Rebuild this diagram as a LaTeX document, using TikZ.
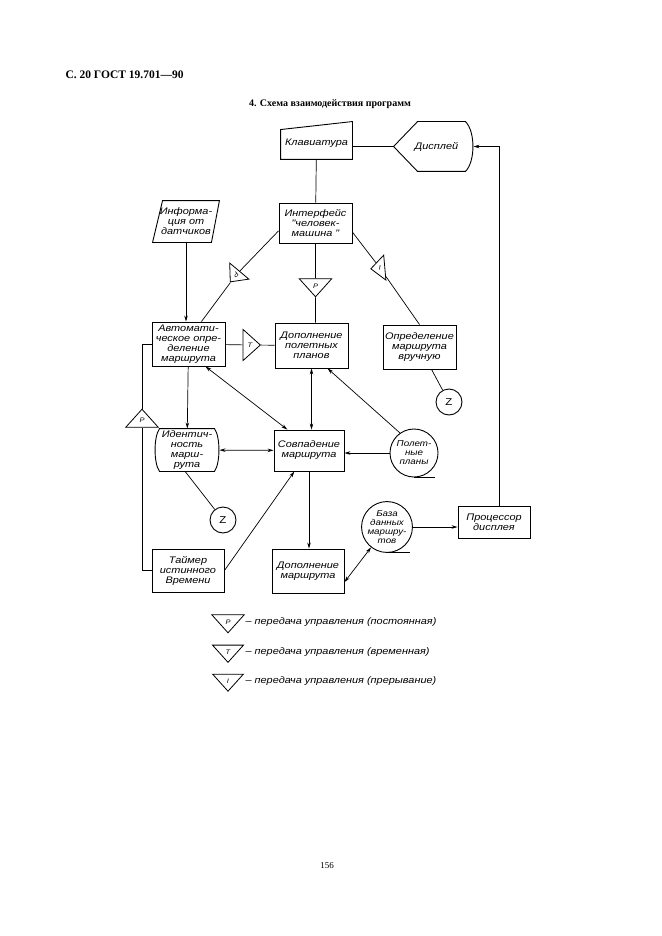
\documentclass[tikz,border=0pt]{standalone}
\usepackage{fontspec}
\setmainfont{Liberation Serif}
\newfontfamily\gost{Liberation Sans}[FakeStretch = 1.15]
\usetikzlibrary{arrows.meta}
\usetikzlibrary{calc}
\usetikzlibrary{shapes.geometric}
\tikzset{blk/.style = {draw, line width = 0.9, inner sep = 0, align = center, font = \gost\itshape\fontsize{9.5}{10}\selectfont}}
\tikzset{sh/.style = {blk, draw = none}}
\tikzset{rnd/.style = {blk, circle, minimum size = 48, font = \gost\itshape\fontsize{8.5}{9}\selectfont}}
\tikzset{zc/.style = {blk, circle, minimum size = 26, font = \gost\fontsize{10}{10}\selectfont}}
\tikzset{tri/.style = {draw, line width = 0.8, isosceles triangle, isosceles triangle apex angle = 84, shape border uses incircle, inner sep = 2.6, fill = white, font = \gost\itshape\fontsize{6.5}{6.5}\selectfont}}
\tikzset{trd/.style = {draw, line width = 0.8, isosceles triangle, isosceles triangle stretches, minimum width = 25, minimum height = 14, inner sep = 0, fill = white, font = \gost\itshape\fontsize{6.5}{6.5}\selectfont}}
\tikzset{con/.style = {line width = 0.7, >={Stealth[length = 6, width = 3.5]}}}

\begin{document}
\begin{tikzpicture}[x = 1pt, y = -1pt]
  \useasboundingbox (0, 0) rectangle (661, 936);
  \node [anchor = west, font = \bfseries\fontsize{11.5}{12}\selectfont] (hdr) at (62, 75) {С. 20 ГОСТ 19.701—90};
  \node [font = \bfseries\fontsize{10}{12}\selectfont] (ttl) at (330, 104) {4. Схема взаимодействия программ};
  % blocks
  \node [sh, minimum width = 71, minimum height = 32] (klav) at (316.5, 143) {Клавиатура};
  \draw [line width = 0.9] (klav.south west) -- (klav.south east) -- ($(klav.north east) + (0, -5)$) -- ($(klav.north west) + (0, 3)$) -- cycle;
  \node [sh, minimum width = 79, minimum height = 49] (disp) at (433.5, 146.5) {\hspace{6pt}Дисплей};
  \draw [line width = 0.9] (disp.west) -- ($(disp.north west) + (24, 0)$) -- ($(disp.north east) + (-8, 0)$)
    .. controls +(10, 10) and +(10, -10) .. ($(disp.south east) + (-8, 0)$) -- ($(disp.south west) + (24, 0)$) -- cycle;
  \node [blk, minimum width = 73, minimum height = 40] (iface) at (315.5, 223) {Интерфейс\\"человек-\\машина "};
  \node [sh, minimum width = 66, minimum height = 41] (info) at (186, 221.5) {Информа-\\ция от\\датчиков};
  \draw [line width = 0.9] (info.south west) -- ($(info.north west) + (10, 0)$) -- (info.north east) -- ($(info.south east) + (-8, 0)$) -- cycle;
  \node [blk, minimum width = 73, minimum height = 44] (auto) at (188.5, 344) {Автомати-\\ческое опре-\\деление\\маршрута};
  \node [blk, minimum width = 73, minimum height = 45] (dopp) at (311.5, 345.5) {Дополнение\\полетных\\планов};
  \node [blk, minimum width = 73, minimum height = 44] (manual) at (419.5, 347) {Определение\\маршрута\\вручную};
  \node [zc] (z1) at (449, 402) {Z};
  \node [sh, minimum width = 64, minimum height = 42] (ident) at (187, 450) {Идентич-\\ность\\марш-\\рута};
  \draw [line width = 0.9] ($(ident.north west) + (5, 0)$) -- ($(ident.north east) + (-5, 0)$)
    .. controls +(6, 8) and +(6, -8) .. ($(ident.south east) + (-5, 0)$) -- ($(ident.south west) + (5, 0)$)
    .. controls +(-6, -8) and +(-6, 8) .. ($(ident.north west) + (5, 0)$) -- cycle;
  \node [blk, minimum width = 70, minimum height = 41] (match) at (309, 450.5) {Совпадение\\маршрута};
  \node [rnd] (plans) at (414, 453) {Полет-\\ные\\планы};
  \draw [line width = 0.9] (plans.south) -- ++(21, 0);
  \node [zc] (z2) at (223, 520) {Z};
  \node [blk, minimum width = 72, minimum height = 43] (timer) at (188, 570.5) {Таймер\\истинного\\Времени};
  \node [blk, minimum width = 72, minimum height = 44] (dopm) at (308, 571) {Дополнение\\маршрута};
  \node [rnd] (base) at (387, 527) {База\\данных\\маршру-\\тов};
  \draw [line width = 0.9] (base.south) -- ++(23, 0);
  \node [blk, minimum width = 72, minimum height = 32] (proc) at (494, 522) {Процессор\\дисплея};
  % control transfer marks
  \node [trd, rotate = 230] (trL) at (236, 275) {Р};
  \node [tri, shape border rotate = 270] (trC) at (315.5, 286) {Р};
  \node [trd, rotate = 185] (trR) at (380, 268) {I};
  \node [tri] (trT) at (250, 345) {Т};
  \node [tri, shape border rotate = 90] (trP) at (142, 420) {Р};
  % connectors
  \draw [con] (disp.west) -- (disp.west -| klav.east);
  \draw [con] (klav) -- (iface);
  \draw [con] (iface.192) -- (trL) -- (auto.60);
  \draw [con] (iface) -- (trC) -- (trC |- dopp.north);
  \draw [con] (iface.-14) -- (trR) -- (manual.north);
  \draw [con] (auto) -- (trT) -- (dopp);
  \draw [con, ->] (info) -- (info |- auto.north);
  \draw [con] (manual) -- (z1);
  \draw [con] (timer.west) -| (trP);
  \draw [con] (trP) |- (auto.west);
  \draw [con, ->] (auto) -- (ident);
  \draw [con, <->] (ident) -- (match);
  \draw [con, <->] (auto.-53) -- (match.136);
  \draw [con, <->] (dopp.south) -- (dopp.south |- match.north);
  \draw [con, ->] (plans.west) -- (match.east |- plans.west);
  \draw [con, ->] (plans.125) -- (dopp.-55);
  \draw [con] (ident.265) -- (z2);
  \draw [con, ->] (timer.east) -- (match.-125);
  \draw [con, ->] (match.south) -- (match.south |- dopm.north);
  \draw [con, <->] (dopm.-17) -- (base.232);
  \draw [con, ->] (base.east) -- (base.east -| proc.west);
  \draw [con, ->] ($(proc.north) + (5, 0)$) |- (disp.east);
  % legend
  \foreach \y/\l/\t/\n in {622/Р/постоянная/1, 652/Т/временная/2, 681/I/прерывание/3} {
    \node [tri, shape border rotate = 270] (lg\n) at (228, \y) {\l};
    \node [anchor = west, font = \gost\itshape\fontsize{9.5}{12}\selectfont] (lt\n) at (242, \y) {– передача управления (\t)};
  }
  \node [font = \fontsize{9}{10}\selectfont] (pg) at (327, 866) {156};
\end{tikzpicture}
\end{document}
